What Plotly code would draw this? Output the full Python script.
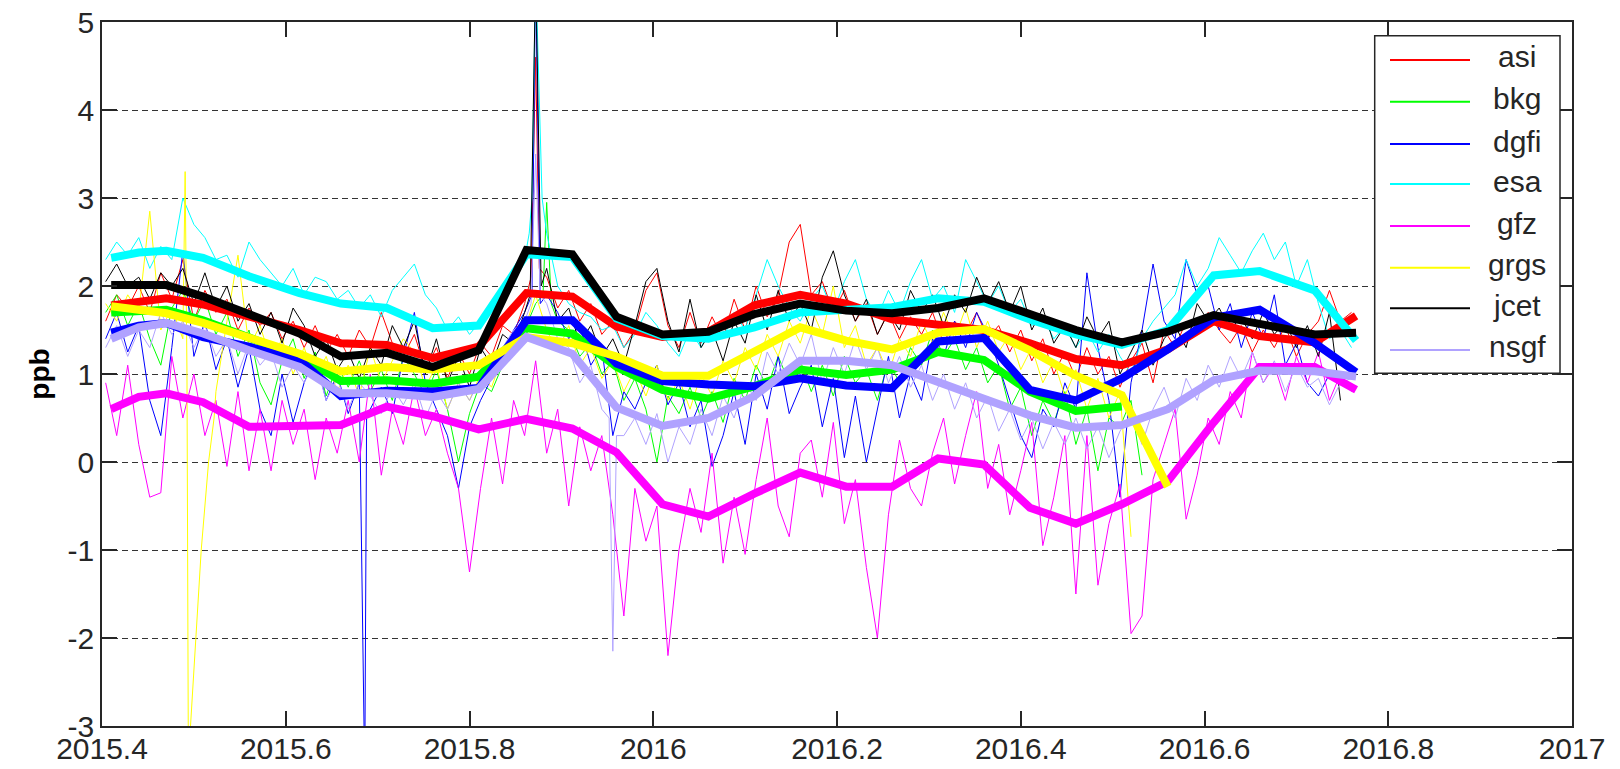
import plotly.graph_objects as go

# ---------------- data ----------------
TX = [2015.404, 2015.416, 2015.428, 2015.440, 2015.452, 2015.464, 2015.476, 2015.488, 2015.500, 2015.512,
      2015.524, 2015.536, 2015.548, 2015.560, 2015.572, 2015.584, 2015.596, 2015.608, 2015.620, 2015.632,
      2015.644, 2015.656, 2015.668, 2015.680, 2015.692, 2015.704, 2015.716, 2015.728, 2015.740, 2015.752,
      2015.764, 2015.776, 2015.788, 2015.800, 2015.812, 2015.824, 2015.836, 2015.848, 2015.860, 2015.872,
      2015.884, 2015.896, 2015.908, 2015.920, 2015.932, 2015.944, 2015.956, 2015.968, 2015.980, 2015.992,
      2016.004, 2016.016, 2016.028, 2016.040, 2016.052, 2016.064, 2016.076, 2016.088, 2016.100, 2016.112,
      2016.124, 2016.136, 2016.148, 2016.160, 2016.172, 2016.184, 2016.196, 2016.208, 2016.220, 2016.232,
      2016.244, 2016.256, 2016.268, 2016.280, 2016.292, 2016.304, 2016.316, 2016.328, 2016.340, 2016.352,
      2016.364, 2016.376, 2016.388, 2016.400, 2016.412, 2016.424, 2016.436, 2016.448, 2016.460, 2016.472,
      2016.484, 2016.496, 2016.508, 2016.520, 2016.532, 2016.544, 2016.556, 2016.568, 2016.580, 2016.592,
      2016.604, 2016.616, 2016.628, 2016.640, 2016.652, 2016.664, 2016.676, 2016.688, 2016.700, 2016.712,
      2016.724, 2016.736, 2016.748, 2016.760]

ASI_THIN = [1.6, 1.9, 1.75, 2.0, 1.7, 2.15, 1.85, 2.3, 1.6, 1.95,
            1.7, 1.85, 1.5, 1.75, 1.55, 1.7, 1.4, 1.6, 1.3, 1.55,
            1.25, 1.45, 1.2, 1.5, 1.3, 1.7, 1.35, 1.2, 1.45, 1.05,
            1.3, 0.95, 1.25, 1.0, 1.35, 1.2, 1.55, 1.45, 1.8, 4.6,
            2.1, 1.75, 1.95, 1.6, 1.8, 1.45, 1.6, 1.3, 1.5, 1.95,
            2.15, 1.55, 1.3, 1.7, 1.35, 1.65, 1.4, 1.85, 1.5, 2.0,
            1.65, 1.9, 2.5, 2.7, 1.9, 2.05, 1.7, 1.95, 1.6, 1.8,
            1.45, 1.7, 1.4, 1.65, 1.45, 1.7, 1.35, 1.6, 1.45, 1.7,
            1.4, 1.55, 1.25, 1.5, 1.15, 1.4, 1.0, 1.25, 0.95, 1.3,
            1.0, 1.2, 0.85, 1.15, 1.35, 0.9, 1.5, 1.3, 1.6, 1.45,
            1.7, 1.5, 1.35, 1.55, 1.25, 1.5, 1.3, 1.55, 1.2, 1.45,
            1.6, 1.95, 1.6, 1.7]
BKG_THIN = [1.7, 1.9, 1.55, 1.8, 1.4, 1.1, 1.75, 1.95, 1.6, 1.85,
            1.45, 1.7, 1.2, 1.5, 0.9, 0.65, 1.15, 1.4, 0.95, 1.25,
            0.75, 1.1, 0.85, 1.15, 0.8, 1.05, 0.7, 1.2, 1.0, 0.75,
            1.05, 0.6, 0.0, 0.55, 0.9, 0.8, 1.1, 1.3, 1.5, 1.8,
            2.95, 1.6, 1.5, 1.2, 1.35, 1.0, 1.15, 0.7, 0.95, 0.6,
            0.0, 0.75, 0.55, 0.85, 0.5, 0.8, 0.45, 0.95, 0.7, 1.1,
            0.85, 1.2, 0.9, 1.15, 0.8, 1.1, 0.75, 1.2, 0.9, 1.05,
            0.7, 1.15, 0.9, 1.3, 1.1, 1.5, 1.2, 1.4, 1.05, 1.3,
            0.9, 1.1, 0.6, 0.85, 0.3, 0.7, 0.45, 0.8, 0.2, 0.6,
            -0.1, 0.5, 0.4, 0.7, -0.15, None, None, None, None, None,
            None, None, None, None, None, None, None, None, None, None,
            None, None, None, None]
DGFI_THIN = [1.4, 1.7, 1.25, 1.55, 0.7, 0.3, 1.3, 2.4, 1.2, 1.6,
             1.05, 1.4, 0.85, 1.3, 0.6, 0.3, 1.0, 0.45, 0.9, 1.2,
             0.7, 1.0, 0.55, 0.9, 0.6, 0.85, 0.55, 1.2, 1.7, 0.9,
             0.6, 0.3, -0.3, 0.4, 0.7, 0.95, 1.2, 1.5, 1.7, 5.6,
             1.9, 1.7, 1.4, 1.55, 1.1, 1.3, 0.3, 0.8, 0.6, 0.9,
             1.1, 0.65, 0.9, 0.4, 0.7, -0.05, 0.3, 0.8, 0.2, 1.0,
             0.6, 1.2, 0.55, 0.85, 1.1, 0.4, 0.95, 0.05, 0.75, 0.0,
             0.6, 1.2, 0.5, 1.0, 0.7, 1.4, 1.2, 1.6, 1.3, 1.7,
             1.45, 1.1, 0.7, 0.3, 0.05, 0.6, 0.4, 0.9, 0.6, 2.15,
             1.3, 0.7, -0.4, 0.9, 1.5, 2.25, 1.6, 1.4, 2.3, 1.9,
             2.0, 1.5, 1.8, 1.3, 1.7, 1.4, 1.9, 1.1, 1.35, 0.9,
             0.75, 1.0, None, None]
ESA_THIN = [2.3, 2.5, 2.35, 2.55, 2.2, 2.45, 2.3, 3.0, 2.7, 2.55,
            2.3, 2.35, 2.1, 2.5, 2.3, 2.15, 2.0, 2.2, 1.9, 2.1,
            2.05, 1.85, 1.95, 1.75, 1.9, 1.65, 1.95, 2.1, 2.25, 1.9,
            1.75, 1.5, 1.65, 1.45, 1.6, 1.7, 1.95, 2.1, 2.3, 5.6,
            2.6, 2.0, 1.8, 1.7, 1.65, 1.5, 1.55, 1.3, 1.45, 1.7,
            1.55, 1.35, 1.2, 1.5, 1.3, 1.55, 1.4, 1.7, 1.5, 1.9,
            2.3, 2.0, 1.75, 1.6, 1.85, 2.0, 1.7, 2.05, 2.3, 1.85,
            1.65, 1.95, 1.7, 2.05, 2.3, 1.85, 2.0, 1.7, 2.3, 2.05,
            1.8, 2.0, 1.7, 1.85, 1.55, 1.65, 1.4, 1.55, 1.3, 1.5,
            1.25, 1.45, 1.2, 1.0, 1.4, 1.6, 1.75, 1.9, 2.3, 2.0,
            2.2, 2.55, 2.35, 2.15, 2.4, 2.6, 2.3, 2.5, 2.0, 2.3,
            1.8, 1.4, 1.5, 1.3]
GFZ_THIN = [0.9, 0.3, 1.1, 0.2, -0.4, -0.35, 1.2, 0.5, 1.0, 0.3,
            0.7, -0.05, 0.8, -0.1, 0.6, -0.1, 0.7, 0.2, 0.6, -0.2,
            0.5, 0.1, 0.7, 0.0, 1.0, -0.15, 0.6, 0.2, 0.85, 0.3,
            0.6, 0.1, -0.3, -1.25, -0.3, 0.5, -0.25, 0.7, 0.3, 1.15,
            0.1, 0.6, -0.5, 0.4, -0.1, 0.3, -0.6, -1.75, -0.3, -0.9,
            -0.5, -2.2, -1.0, -0.3, -0.8, 0.1, -1.15, -0.4, -1.05, -0.2,
            0.5, -0.5, -0.85, 0.1, 0.25, -0.4, 0.45, -0.7, -0.2, -1.2,
            -2.0, -0.6, 0.25, -0.3, -0.5, 0.1, 0.5, -0.25, 0.3, 0.8,
            -0.3, 0.2, -0.6, -0.1, 0.45, -0.95, -0.4, 0.3, -1.5, 0.3,
            -1.4, -0.7, -0.25, -1.95, -1.75, -0.2, 0.2, 0.6, -0.65, -0.15,
            0.5, 0.2, 0.8, 0.5, 1.25, 0.9, 1.1, 0.7, 1.2, 0.9,
            1.25, 0.7, 1.0, 0.8]
GRGS_THIN = [1.8, 1.6, 1.9, 1.7, 2.85, 1.5, 1.75, 1.4, -2.4, -0.5,
             0.8, 1.6, 2.35, 1.3, 1.55, 1.15, 1.4, 1.0, 1.3, 0.95,
             1.2, 0.8, 1.1, 0.75, 1.3, 0.9, 1.15, 1.4, 1.25, 0.85,
             1.1, 0.6, 0.9, 0.7, 1.0, 0.85, 1.2, 1.3, 1.5, 1.9,
             1.5, 1.25, 1.55, 1.1, 1.3, 0.95, 1.15, 0.8, 1.05, 0.75,
             1.1, 0.7, 0.95, 0.6, 1.0, 0.75, 1.15, 0.9, 1.3, 1.05,
             1.45, 1.2, 1.6, 1.35, 1.75, 1.45, 2.0, 1.3, 1.55, 1.1,
             1.3, 1.0, 1.4, 1.2, 1.6, 1.35, 1.7, 1.4, 1.75, 1.3,
             1.6, 1.25, 1.45, 1.05, 1.3, 0.9, 1.15, 0.75, 1.05, 0.6,
             0.95, 0.5, 0.8, -0.85, None, None, None, None, None, None,
             None, None, None, None, None, None, None, None, None, None,
             None, None, None, None]
JCET_THIN = [2.05, 2.25, 2.0, 2.1, 1.85, 2.15, 2.0, 2.2, 1.8, 2.15,
             1.75, 2.0, 1.6, 1.8, 1.45, 1.7, 1.35, 1.75, 1.55, 1.2,
             1.4, 1.05, 1.25, 0.95, 1.3, 1.1, 1.55, 1.3, 1.6, 1.0,
             1.4, 0.9, 1.2, 0.85, 1.3, 1.1, 1.45, 1.35, 1.7, 5.6,
             2.2, 1.6, 1.75, 1.35, 1.55, 1.2, 1.4, 1.1, 1.55, 2.05,
             2.2, 1.6, 1.25, 1.85, 1.3, 1.5, 1.15, 1.6, 1.35, 1.9,
             1.5, 1.95, 1.6, 1.8, 1.5, 2.1, 2.4, 1.9, 1.6, 1.85,
             1.45, 1.7, 1.5, 1.95, 1.7, 1.9, 1.55, 1.9, 1.7, 2.1,
             1.8, 2.05, 1.7, 2.0, 1.5, 1.75, 1.35, 1.55, 1.3, 1.65,
             1.4, 1.6, 1.0, 1.25, 1.5, 1.1, 1.4, 1.55, 1.3, 1.8,
             1.6, 1.75, 1.5, 1.65, 1.4, 1.7, 1.45, 1.6, 1.3, 1.55,
             1.2, 1.7, 0.7, None]
NSGF_THIN = [1.3, 1.55, 1.2, 1.5, 1.3, 1.7, 1.45, 1.6, 1.3, 1.55,
             1.2, 1.4, 1.0, 1.35, 1.1, 1.25, 0.85, 1.1, 0.9, 1.15,
             0.7, 0.95, 0.6, 0.9, 0.75, 0.55, 0.85, 0.65, 0.9, 0.5,
             0.8, 0.6, 0.9, 0.7, 0.95, 1.1, 1.3, 1.5, 1.6, 3.5,
             1.8, 1.4, 1.3, 0.9, 1.1, 0.6, -2.15, 0.3, 0.5, 0.2,
             0.55, 0.0, 0.4, 0.2, 0.6, 0.3, 0.75, 0.5, 0.9, 0.7,
             1.25, 1.0, 1.35, 1.1, 1.45, 0.9, 1.3, 1.0, 1.4, 1.05,
             1.3, 0.9, 1.2, 0.85, 1.1, 0.7, 1.0, 0.6, 0.9, 0.5,
             0.75, 0.35, 0.6, 0.25, 0.5, 0.15, 0.45, 0.2, 0.5, 0.15,
             0.4, 0.05, 0.35, 0.55, 0.2, 0.6, 0.85, 0.5, 0.95, 0.7,
             1.1, 0.85, 1.2, 0.95, 1.25, 0.9, 1.15, 0.8, 1.1, 0.85,
             0.95, 0.65, 0.9, 0.95]

# short-lived excursions (extra samples between the regular ones)
ASI_EXTRA_X = [2015.867, 2015.876]
ASI_EXTRA_Y = [2.1, 2.2]
BKG_EXTRA_X = [2015.880, 2015.889]
BKG_EXTRA_Y = [1.9, 1.8]
DGFI_EXTRA_X = [2015.686, 2015.688, 2015.868, 2015.877]
DGFI_EXTRA_Y = [-3.6, 0.5, 1.9, 1.8]
ESA_EXTRA_X = [2015.865, 2015.868, 2015.879]
ESA_EXTRA_Y = [2.6, 3.0, 3.0]
GFZ_EXTRA_X = []
GFZ_EXTRA_Y = []
GRGS_EXTRA_X = [2015.4905, 2015.4925, 2015.494, 2015.502, 2015.508, 2015.516, 2015.522]
GRGS_EXTRA_Y = [3.3, 1.0, -3.4, -2.0, -1.0, 0.0, 0.5]
JCET_EXTRA_X = [2015.866, 2015.878]
JCET_EXTRA_Y = [1.9, 2.0]
NSGF_EXTRA_X = [2015.867, 2015.877, 2015.952, 2015.960]
NSGF_EXTRA_Y = [1.8, 1.9, 0.5, 0.3]

# smoothed series
XS = [2015.41, 2015.44, 2015.47, 2015.51, 2015.56, 2015.615, 2015.66, 2015.71, 2015.76, 2015.81,
      2015.862, 2015.912, 2015.96, 2016.01, 2016.06, 2016.11, 2016.16, 2016.21, 2016.26, 2016.31,
      2016.36, 2016.41, 2016.46, 2016.51, 2016.56, 2016.61, 2016.66, 2016.72, 2016.765]
ASI_SMOOTH = [1.78, 1.83, 1.86, 1.79, 1.65, 1.50, 1.35, 1.33, 1.18, 1.31, 1.92, 1.88, 1.54, 1.42, 1.48,
              1.78, 1.90, 1.80, 1.62, 1.56, 1.50, 1.35, 1.17, 1.10, 1.28, 1.60, 1.43, 1.36, 1.66]
BKG_SMOOTH = [1.70, 1.72, 1.73, 1.61, 1.42, 1.20, 0.92, 0.93, 0.89, 0.97, 1.52, 1.46, 1.08, 0.82, 0.72,
              0.86, 1.05, 0.99, 1.05, 1.25, 1.16, 0.80, 0.58, 0.63, None, None, None, None, None]
DGFI_SMOOTH = [1.47, 1.55, 1.58, 1.42, 1.31, 1.16, 0.75, 0.81, 0.80, 0.84, 1.61, 1.61, 1.12, 0.92, 0.88,
               0.86, 0.95, 0.87, 0.84, 1.37, 1.41, 0.82, 0.70, 0.95, 1.28, 1.64, 1.73, 1.35, 1.02]
ESA_SMOOTH = [2.32, 2.38, 2.40, 2.32, 2.11, 1.92, 1.80, 1.75, 1.52, 1.55, 2.36, 2.33, 1.63, 1.43, 1.40,
              1.53, 1.70, 1.72, 1.76, 1.86, 1.82, 1.62, 1.45, 1.33, 1.50, 2.12, 2.17, 1.95, 1.38]
GFZ_SMOOTH = [0.60, 0.74, 0.78, 0.68, 0.40, 0.40, 0.42, 0.63, 0.52, 0.37, 0.49, 0.38, 0.11, -0.48, -0.62,
              -0.36, -0.12, -0.28, -0.28, 0.04, -0.03, -0.52, -0.70, -0.48, -0.22, 0.45, 1.08, 1.08, 0.82]
GRGS_SMOOTH = [1.77, 1.72, 1.69, 1.58, 1.42, 1.23, 1.03, 1.08, 1.05, 1.10, 1.42, 1.35, 1.20, 0.98, 0.98,
               1.26, 1.53, 1.38, 1.28, 1.47, 1.51, 1.27, 0.98, 0.76, -0.28, None, None, None, None]
JCET_SMOOTH = [2.01, 2.02, 2.01, 1.88, 1.69, 1.46, 1.20, 1.24, 1.08, 1.27, 2.41, 2.36, 1.65, 1.45, 1.48,
               1.68, 1.80, 1.72, 1.69, 1.75, 1.86, 1.69, 1.50, 1.36, 1.48, 1.67, 1.58, 1.45, 1.47]
NSGF_SMOOTH = [1.40, 1.53, 1.58, 1.46, 1.27, 1.08, 0.78, 0.78, 0.74, 0.83, 1.42, 1.23, 0.62, 0.41, 0.50,
               0.75, 1.15, 1.15, 1.10, 0.92, 0.72, 0.53, 0.39, 0.42, 0.60, 0.93, 1.04, 1.03, 0.97]

NAMES = ["asi", "bkg", "dgfi", "esa", "gfz", "grgs", "jcet", "nsgf"]
COLORS = ["#FF0000", "#00FF00", "#0000FF", "#00FFFF", "#FF00FF", "#FFFF00", "#000000", "#B0A2FF"]
THIN = [ASI_THIN, BKG_THIN, DGFI_THIN, ESA_THIN, GFZ_THIN, GRGS_THIN, JCET_THIN, NSGF_THIN]
EXTRA_X = [ASI_EXTRA_X, BKG_EXTRA_X, DGFI_EXTRA_X, ESA_EXTRA_X, GFZ_EXTRA_X, GRGS_EXTRA_X, JCET_EXTRA_X, NSGF_EXTRA_X]
EXTRA_Y = [ASI_EXTRA_Y, BKG_EXTRA_Y, DGFI_EXTRA_Y, ESA_EXTRA_Y, GFZ_EXTRA_Y, GRGS_EXTRA_Y, JCET_EXTRA_Y, NSGF_EXTRA_Y]
SMOOTH = [ASI_SMOOTH, BKG_SMOOTH, DGFI_SMOOTH, ESA_SMOOTH, GFZ_SMOOTH, GRGS_SMOOTH, JCET_SMOOTH, NSGF_SMOOTH]

X_TICKS = [2015.4, 2015.6, 2015.8, 2016.0, 2016.2, 2016.4, 2016.6, 2016.8, 2017.0]
X_TICKTEXT = ["2015.4", "2015.6", "2015.8", "2016", "2016.2", "2016.4", "2016.6", "2016.8", "2017"]
Y_TICKS = [-3, -2, -1, 0, 1, 2, 3, 4, 5]
Y_TICKTEXT = ["-3", "-2", "-1", "0", "1", "2", "3", "4", "5"]

# ---------------- figure ----------------
FONT = "Liberation Sans, Arial, Helvetica, sans-serif"
AX = "#262626"
fig = go.Figure()

for name, col, yv, ex, ey in zip(NAMES, COLORS, THIN, EXTRA_X, EXTRA_Y):
    pts = [(x, y) for x, y in zip(TX, yv) if y is not None] + list(zip(ex, ey))
    pts.sort(key=lambda p: p[0])
    fig.add_trace(go.Scatter(x=[p[0] for p in pts], y=[p[1] for p in pts], mode="lines",
                             name=name, showlegend=False, line=dict(color=col, width=1)))

for name, col, yv in zip(NAMES, COLORS, SMOOTH):
    xs = [x for x, y in zip(XS, yv) if y is not None]
    ys = [y for y in yv if y is not None]
    fig.add_trace(go.Scatter(x=xs, y=ys, mode="lines", name=name + " (smoothed)",
                             showlegend=False, line=dict(color=col, width=8)))

# legend box drawn in paper coordinates (plot area = 1470 x 704 px)
PW, PH = 1470.0, 704.0
LEG_LEFT, LEG_RIGHT, LEG_TOP, LEG_BOTTOM = 1272.7, 1458.0, 13.7, 351.3   # px from plot-area left/top
LINE_X0, LINE_X1, TEXT_XC = 1288.0, 1368.0, 1415.0
ROW_Y = [38.0, 79.7, 122.0, 162.0, 204.0, 245.7, 286.3, 328.0]

shapes = [dict(type="rect", xref="paper", yref="paper",
               x0=LEG_LEFT / PW, x1=LEG_RIGHT / PW, y0=1 - LEG_BOTTOM / PH, y1=1 - LEG_TOP / PH,
               line=dict(color=AX, width=1.5), fillcolor="white", layer="above")]
annotations = []
for name, col, ry in zip(NAMES, COLORS, ROW_Y):
    yp = 1 - ry / PH
    shapes.append(dict(type="line", xref="paper", yref="paper", x0=LINE_X0 / PW, x1=LINE_X1 / PW,
                       y0=yp, y1=yp, line=dict(color=col, width=2), layer="above"))
    annotations.append(dict(text=name, xref="paper", yref="paper", x=TEXT_XC / PW, y=yp + 3 / PH,
                            xanchor="center", yanchor="middle", showarrow=False,
                            font=dict(family=FONT, size=30, color=AX)))

fig.update_layout(
    width=1612, height=761,
    template="none",
    paper_bgcolor="white", plot_bgcolor="white",
    margin=dict(l=94, r=48, t=14, b=43, autoexpand=False),
    font=dict(family=FONT, size=30, color=AX),
    showlegend=False,
    shapes=shapes, annotations=annotations,
    xaxis=dict(range=[2015.4, 2017.0], tickvals=X_TICKS, ticktext=X_TICKTEXT,
               ticks="inside", ticklen=15, tickwidth=1.5, tickcolor=AX,
               showline=True, linecolor=AX, linewidth=1.5, mirror="ticks",
               showgrid=False, zeroline=False, automargin=False,
               ticklabeloverflow="allow", ticklabelstandoff=-5,
               tickfont=dict(family=FONT, size=30, color=AX)),
    yaxis=dict(range=[-3, 5], tickvals=Y_TICKS, ticktext=Y_TICKTEXT,
               ticks="inside", ticklen=15, tickwidth=1.5, tickcolor=AX,
               showline=True, linecolor=AX, linewidth=1.5, mirror="ticks",
               showgrid=True, gridcolor="#333333", gridwidth=1.2, griddash="6px,4px",
               zeroline=False, automargin=False, ticklabeloverflow="allow",
               tickfont=dict(family=FONT, size=30, color=AX),
               title=dict(text="<b>ppb</b>", font=dict(family=FONT, size=28, color="black"),
                          standoff=10)),
)

fig.write_html("out.html")
